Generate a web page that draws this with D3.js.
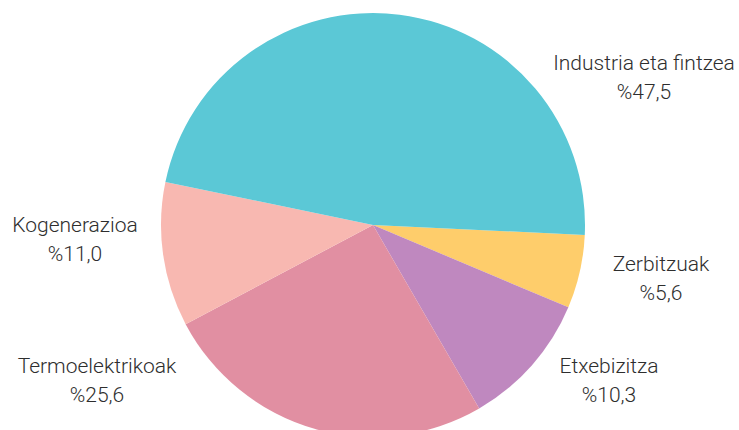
<!DOCTYPE html>
<html>
<head>
<meta charset="utf-8">
<script src="https://cdn.jsdelivr.net/npm/d3@7"></script>
<style>
  body { margin: 0; background: #fff; }
  svg text { font-family: Roboto, "Noto Sans", sans-serif; font-weight: 300; fill: #2e2e2e; }
</style>
</head>
<body>
<svg id="chart" width="739" height="430"></svg>
<script>
// data
var categories = ["Zerbitzuak", "Etxebizitza", "Termoelektrikoak", "Kogenerazioa", "Industria eta fintzea"];
var values = [5.6, 10.3, 25.6, 11.0, 47.5];
var colors = ["#fecd6b", "#bf88bf", "#e18fa2", "#f8b8b1", "#5bc8d6"];

// where each label sits (x centre, first baseline)
var labelPos = [[661, 271], [609, 373], [97, 373], [75, 232], [644, 70]];

var svg = d3.select("#chart"),
    cx = 373,
    cy = 225,
    radius = 212;

var pie = d3.pie()
  .sort(null)
  .value(function(d) { return d; })
  .startAngle(92.7 * Math.PI / 180)
  .endAngle(92.7 * Math.PI / 180 + 2 * Math.PI);

var arc = d3.arc().innerRadius(0).outerRadius(radius);

var g = svg.append("g").attr("transform", "translate(" + cx + "," + cy + ")");

g.selectAll("path")
  .data(pie(values))
  .enter().append("path")
  .attr("d", arc)
  .attr("fill", function(d, i) { return colors[i]; });

var labels = svg.append("g")
  .selectAll("text")
  .data(categories)
  .enter().append("text")
  .attr("text-anchor", "middle")
  .attr("font-size", 21)
  .attr("transform", function(d, i) { return "translate(" + labelPos[i][0] + "," + labelPos[i][1] + ")"; });

labels.append("tspan")
  .attr("x", 0)
  .attr("y", 0)
  .text(function(d) { return d; });

labels.append("tspan")
  .attr("x", 0)
  .attr("y", 29)
  .text(function(d, i) { return "%" + values[i].toFixed(1).replace(".", ","); });
</script>
</body>
</html>
